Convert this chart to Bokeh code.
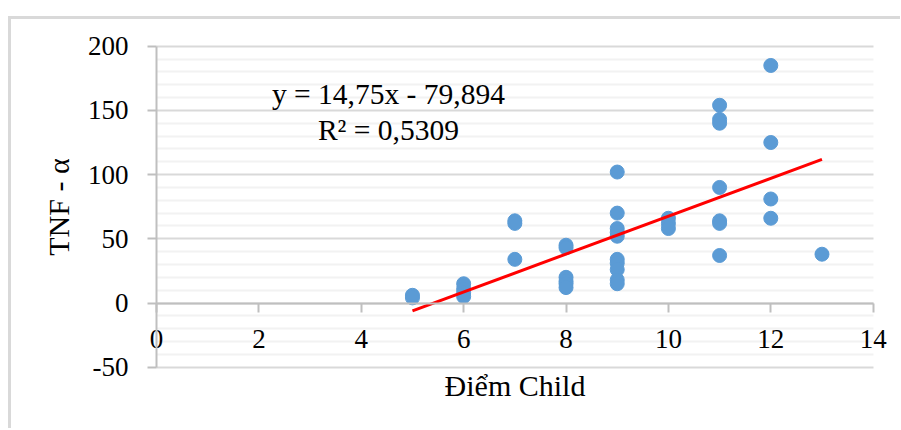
from bokeh.plotting import figure
from bokeh.models import (LinearAxis, FixedTicker, Label, ColumnDataSource,
                          Range1d, Grid)
from bokeh.embed import file_html
from bokeh.resources import INLINE

# ---- data ----
child_score = [5, 5,
               6, 6, 6, 6,
               7, 7, 7,
               8, 8, 8, 8, 8, 8,
               9, 9, 9, 9, 9, 9, 9, 9, 9, 9,
               10, 10, 10,
               11, 11, 11, 11, 11, 11, 11,
               12, 12, 12, 12,
               13]
tnf_alpha = [6, 4,
             15, 11, 8, 5,
             64, 62, 34,
             45, 43, 20, 17, 15, 12,
             102, 70, 58, 55, 52, 34, 31, 26, 18, 15,
             66, 62, 58,
             154, 143, 140, 90, 64, 62, 37,
             185, 125, 81, 66,
             38]

trend_slope = 14.75
trend_intercept = -79.894
trend_x = [5, 13]
trend_y = [trend_slope * v + trend_intercept for v in trend_x]

x_ticks = [0, 2, 4, 6, 8, 10, 12, 14]
y_ticks = [-50, 0, 50, 100, 150, 200]
y_tick_labels = ["-50", "0", "50", "100", "150", "200"]
y_minor_ticks = [-40, -30, -20, -10, 10, 20, 30, 40, 60, 70, 80, 90,
                 110, 120, 130, 140, 160, 170, 180, 190]
x_bounds = (0, 14)
y_bounds = (-50, 200)

equation_text = "y = 14,75x - 79,894"
r2_text = "R² = 0,5309"
x_title = "Điểm Child"
y_title = "TNF - α"

FONT = "Liberation Serif"
AXIS_GRAY = "#bfbfbf"

# The frame covers the whole chart area so that the axes crossing at (0, 0)
# and their labels are never clipped; grid and axes are bounded to the data box.
p = figure(frame_width=879, frame_height=380,
           x_range=Range1d(-2.774, 14.397), y_range=Range1d(-83.72, 212.23),
           x_axis_type=None, y_axis_type=None,
           output_backend="svg", toolbar_location=None,
           min_border_left=3, min_border_top=11, min_border_right=7,
           min_border_bottom=18)
p.outline_line_color = None
p.background_fill_color = "white"
p.border_fill_color = "white"
p.margin = (16, 0, 0, 8)
p.styles = {"border-top": "3px solid #d9d9d9", "border-left": "3px solid #d9d9d9"}

# grid (horizontal lines only, between x = 0 and x = 14)
yticker = FixedTicker(ticks=y_ticks, minor_ticks=y_minor_ticks)
g = Grid(dimension=1, ticker=yticker, cross_bounds=x_bounds)
g.grid_line_color = "#d9d9d9"
g.grid_line_width = 2
g.minor_grid_line_color = "#f2f2f2"
g.minor_grid_line_width = 2
p.add_layout(g)

# y axis at x = 0
yax = LinearAxis(ticker=yticker, fixed_location=0, bounds=y_bounds)
yax.axis_line_color = AXIS_GRAY
yax.axis_line_width = 2
yax.major_tick_line_color = AXIS_GRAY
yax.major_tick_line_width = 2
yax.major_tick_out = 9
yax.major_tick_in = 0
yax.minor_tick_line_color = None
yax.major_label_overrides = dict(zip(y_ticks, y_tick_labels))
yax.major_label_text_font = FONT
yax.major_label_text_font_size = "27px"
yax.major_label_text_color = "black"
yax.major_label_standoff = 19
yax.axis_label = y_title
yax.axis_label_text_font = FONT
yax.axis_label_text_font_size = "30px"
yax.axis_label_text_font_style = "normal"
yax.axis_label_text_color = "black"
yax.axis_label_standoff = 10
p.add_layout(yax, "left")

# x axis at y = 0
xax = LinearAxis(ticker=FixedTicker(ticks=x_ticks), fixed_location=0, bounds=x_bounds)
xax.axis_line_color = AXIS_GRAY
xax.axis_line_width = 2
xax.major_tick_line_color = AXIS_GRAY
xax.major_tick_line_width = 2
xax.major_tick_out = 9
xax.major_tick_in = 0
xax.minor_tick_line_color = None
xax.major_label_text_font = FONT
xax.major_label_text_font_size = "27px"
xax.major_label_text_color = "black"
xax.major_label_standoff = 18
xax.axis_label = x_title
xax.axis_label_text_font = FONT
xax.axis_label_text_font_size = "30px"
xax.axis_label_text_font_style = "normal"
xax.axis_label_text_color = "black"
xax.axis_label_standoff = 17
p.add_layout(xax, "below")

src = ColumnDataSource(dict(x=child_score, y=tnf_alpha))
p.scatter("x", "y", source=src, size=14, fill_color="#5b9bd5", line_color="#5b9bd5")
p.line(trend_x, trend_y, line_color="#ff0000", line_width=3)

p.add_layout(Label(x=4.53, y=162.5, text=equation_text, text_align="center",
                   text_baseline="alphabetic", text_font=FONT, text_font_size="29.5px",
                   text_color="black"))
p.add_layout(Label(x=4.53, y=134.5, text=r2_text, text_align="center",
                   text_baseline="alphabetic", text_font=FONT, text_font_size="29.5px",
                   text_color="black"))

open("out.html", "w").write(file_html(p, INLINE))
